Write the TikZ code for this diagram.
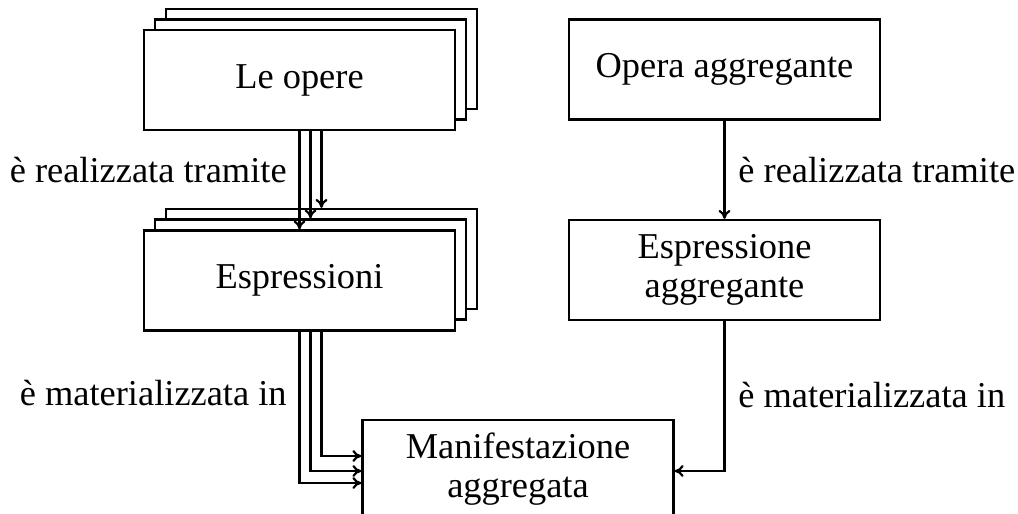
\documentclass[tikz,border=0pt]{standalone}
\usepackage{fontspec}
\setmainfont{Liberation Serif}
\usetikzlibrary{calc,arrows.meta}
\begin{document}
\begin{tikzpicture}[x=0.5pt,y=-0.5pt,
  box/.style={draw,line width=1.1pt,fill=white,minimum width=155.5pt,minimum height=50pt,inner sep=0pt,align=center,
    font=\fontsize{18.2}{19.5}\selectfont},
  lbl/.style={inner sep=0pt,font=\fontsize{18.2}{19.5}\selectfont},
  arr/.style={line width=1.1pt,-{To[length=4.5pt,width=6pt]}}]
\useasboundingbox (0,0) rectangle (1018,514);
\clip (0,0) rectangle (1018,514);
% Le opere stack
\node[box] (leC) at (321.5,59) {};
\node[box] (leB) at (310.5,69.5) {};
\node[box] (leA) at (299.5,80) {Le opere};
% Espressioni stack
\node[box] (esC) at (321.5,259) {};
\node[box] (esB) at (310.5,269.5) {};
\node[box] (esA) at (299.5,280.5) {Espressioni};
% right column
\node[box] (opagg) at (724.5,69.5) {Opera aggregante};
\node[box] (espagg) at (724.5,270) {Espressione\\aggregante};
\node[box,minimum height=48pt,text depth=3pt] (manif) at (518,468) {Manifestazione\\aggregata};
% arrows left top
\draw[arr] (leA.south -| leC.south) -- (esC.north);
\draw[arr] (leA.south -| leB.south) -- (esB.north);
\draw[arr] (leA.south) -- (esA.north);
% arrows left bottom
\draw[arr] (esA.south -| esC.south) |- ($(manif.west)+(0,-12)$);
\draw[arr] (esA.south -| esB.south) |- ($(manif.west)+(0,3)$);
\draw[arr] (esA.south) |- ($(manif.west)+(0,15)$);
% right arrows
\draw[arr] (opagg) -- (espagg);
\draw[arr] (espagg.south) |- ($(manif.east)+(0,3)$);
% labels
\node[lbl,anchor=base east] (l1) at (287,182) {è realizzata tramite};
\node[lbl,anchor=base east] (l2) at (287,405) {è materializzata in};
\node[lbl,anchor=base west] (r1) at (738,182) {è realizzata tramite};
\node[lbl,anchor=base west] (r2) at (738,407) {è materializzata in};
\end{tikzpicture}
\end{document}
